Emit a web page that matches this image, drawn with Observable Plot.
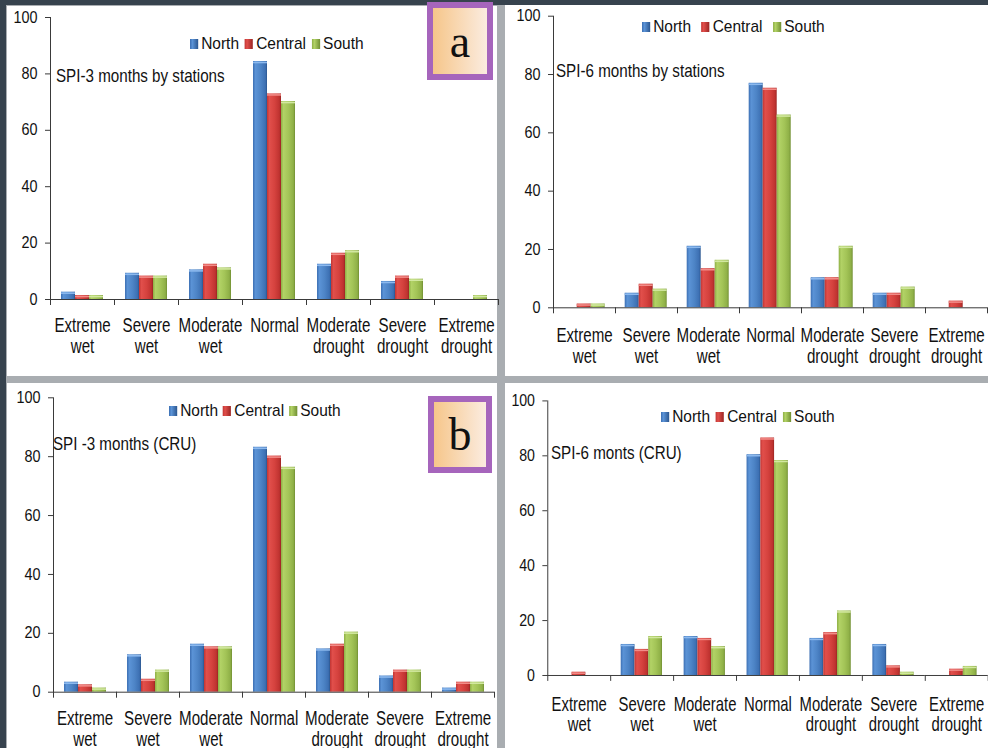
<!DOCTYPE html>
<html>
<head>
<meta charset="utf-8">
<script src="https://cdn.jsdelivr.net/npm/d3@7"></script>
<script src="https://cdn.jsdelivr.net/npm/@observablehq/plot@0.6"></script>
<style>
  html, body { margin: 0; padding: 0; }
  body {
    width: 988px; height: 748px; overflow: hidden; position: relative;
    background: #37434e; font-family: "Liberation Sans", Arial, sans-serif;
  }
  .sep { position: absolute; background: #a9adb1; }
  .panel { position: absolute; background: #fff; }
  .chart { position: absolute; }
  .chart svg { overflow: visible; display: block; }
  .title {
    position: absolute; font-size: 18.5px; line-height: 18.5px; white-space: nowrap;
    transform: scaleX(0.82); transform-origin: 0 0; color: #111;
  }
  .legend {
    position: absolute; display: flex; align-items: center; white-space: nowrap;
    font-size: 17px; line-height: 17px; height: 17px; color: #111;
    transform: scaleX(0.91); transform-origin: 0 50%;
  }
  .legend i { display: inline-block; width: 9px; height: 10px; }
  .badge {
    position: absolute; box-sizing: border-box; border: 6px solid #a665bc;
    background: linear-gradient(to right, #f6c68a, #fbece0);
    font-family: "Liberation Serif", "DejaVu Serif", serif; font-size: 46px; color: #111;
    display: flex; align-items: center; justify-content: center;
  }
</style>
</head>
<body>
<svg width="0" height="0" style="position:absolute">
  <defs>
    <linearGradient id="bar-North" x1="0" x2="1" y1="0" y2="0">
      <stop offset="0" stop-color="#3c6fb3"/>
      <stop offset="0.18" stop-color="#5b93d6"/>
      <stop offset="0.55" stop-color="#4d84c6"/>
      <stop offset="0.88" stop-color="#3d70b3"/>
      <stop offset="1" stop-color="#2b568f"/>
    </linearGradient>
    <linearGradient id="bar-Central" x1="0" x2="1" y1="0" y2="0">
      <stop offset="0" stop-color="#c13533"/>
      <stop offset="0.18" stop-color="#e14f4b"/>
      <stop offset="0.55" stop-color="#d5423e"/>
      <stop offset="0.88" stop-color="#bf3330"/>
      <stop offset="1" stop-color="#9a2523"/>
    </linearGradient>
    <linearGradient id="bar-South" x1="0" x2="1" y1="0" y2="0">
      <stop offset="0" stop-color="#8eaf45"/>
      <stop offset="0.18" stop-color="#b2d266"/>
      <stop offset="0.55" stop-color="#a3c457"/>
      <stop offset="0.88" stop-color="#8fb047"/>
      <stop offset="1" stop-color="#718f33"/>
    </linearGradient>
  </defs>
</svg>

<div class="sep" style="left:6px;top:5px;width:982px;height:743px"></div>
<div class="panel" style="left:7px;top:6px;width:490px;height:370px"></div>
<div class="panel" style="left:505px;top:5px;width:483px;height:371px"></div>
<div class="panel" style="left:7px;top:383px;width:490px;height:365px"></div>
<div class="panel" style="left:505px;top:383px;width:483px;height:365px"></div>

<div id="chart-a" class="chart" style="left:0;top:0"></div>
<div id="chart-c" class="chart" style="left:505px;top:0"></div>
<div id="chart-b" class="chart" style="left:0;top:384px"></div>
<div id="chart-d" class="chart" style="left:505px;top:384px"></div>

<div class="title" style="left:56px;top:66.5px">SPI-3 months by stations</div>
<div class="title" style="left:555.7px;top:61.5px">SPI-6 months by stations</div>
<div class="title" style="left:52.7px;top:435px">SPI -3 months (CRU)</div>
<div class="title" style="left:551.3px;top:444.3px">SPI-6 monts (CRU)</div>

<div class="legend" id="legend-a" style="left:190px;top:35.2px"></div>
<div class="legend" id="legend-c" style="left:641.7px;top:18.2px"></div>
<div class="legend" id="legend-b" style="left:169.3px;top:402.2px"></div>
<div class="legend" id="legend-d" style="left:661.3px;top:408.2px"></div>

<div class="badge" style="left:427px;top:2px;width:66px;height:78px">a</div>
<div class="badge" style="left:428px;top:396px;width:64px;height:77px">b</div>

<script>
// SPI classes on the x axis and the three regions
const categories = ["Extreme wet", "Severe wet", "Moderate wet", "Normal", "Moderate drought", "Severe drought", "Extreme drought"];
const regions = ["North", "Central", "South"];
const yTicks = [0, 20, 40, 60, 80, 100];

// SPI-3 months by stations (%)
const spi3StationsNorth   = [2.6, 9.3, 10.5, 84.4, 12.5, 6.4, 0];
const spi3StationsCentral = [1.4, 8.3, 12.5, 72.9, 16.4, 8.3, 0];
const spi3StationsSouth   = [1.4, 8.3, 11.2, 70.2, 17.3, 7.2, 1.4];

// SPI-6 months by stations (%)
const spi6StationsNorth   = [0, 5.0, 21.1, 77.0, 10.3, 5.0, 0];
const spi6StationsCentral = [1.3, 8.1, 13.4, 75.3, 10.3, 5.0, 2.3];
const spi6StationsSouth   = [1.3, 6.4, 16.3, 66.1, 21.1, 7.1, 0];

// SPI-3 months from CRU (%)
const spi3CruNorth   = [3.4, 12.7, 16.3, 83.2, 14.7, 5.5, 1.4];
const spi3CruCentral = [2.5, 4.4, 15.4, 80.2, 16.3, 7.5, 3.4];
const spi3CruSouth   = [1.4, 7.5, 15.4, 76.4, 20.4, 7.5, 3.4];

// SPI-6 months from CRU (%)
const spi6CruNorth   = [0, 11.3, 14.2, 80.4, 13.5, 11.3, 0];
const spi6CruCentral = [1.2, 9.5, 13.5, 86.5, 15.6, 3.5, 2.3];
const spi6CruSouth   = [0, 14.2, 10.5, 78.3, 23.5, 1.2, 3.3];

const capColor = {North: "#8cb9ee", Central: "#f28c88", South: "#d2e8a0"};
const swatch = {
  North: "linear-gradient(to right,#3c6fb3,#5b93d6 30%,#2b568f)",
  Central: "linear-gradient(to right,#c13533,#e14f4b 30%,#9a2523)",
  South: "linear-gradient(to right,#8eaf45,#b2d266 30%,#718f33)"
};
const axisColor = "#3a3a3a";

// narrow the glyphs of a group of axis labels around their anchor points
function squeezeText(svg, selector, k) {
  svg.querySelectorAll(selector).forEach((t) => {
    const tr = t.getAttribute("transform") || "";
    t.setAttribute("transform", `${tr} scale(${k},1)`);
  });
}

function drawPanel(id, cfg) {
  const {series, width, height, marginLeft, marginTop, marginBottom, labelPad} = cfg;
  const rows = categories.flatMap((cat, i) =>
    regions.map((region, j) => ({cat, region, value: series[j][i]}))
  );
  const innerH = height - marginTop - marginBottom;
  const svg = Plot.plot({
    width, height, marginLeft, marginRight: 0, marginTop, marginBottom,
    style: {background: "none", color: "#111", fontFamily: "Liberation Sans, Arial, sans-serif", fontSize: "16px", overflow: "visible"},
    fx: {domain: categories, padding: 0},
    x: {domain: regions, paddingInner: 0, paddingOuter: 0.68, axis: null},
    y: {domain: [0, 100]},
    color: {domain: regions, range: regions.map((r) => `url(#bar-${r})`)},
    marks: [
      Plot.barY(rows, {fx: "cat", x: "region", y: "value", fill: "region"}),
      Plot.tickY(rows.filter((d) => d.value > 0), {
        fx: "cat", x: "region", y: "value",
        stroke: (d) => capColor[d.region], strokeWidth: 1.6, dy: 1
      }),
      Plot.ruleY([0], {stroke: axisColor}),
      Plot.frame({anchor: "left", facetAnchor: "left", stroke: axisColor}),
      Plot.frame({anchor: "left", insetTop: innerH, insetBottom: -5, stroke: axisColor}),
      Plot.frame({anchor: "right", facetAnchor: "right", insetTop: innerH, insetBottom: -5, stroke: axisColor}),
      Plot.axisY({ticks: yTicks, tickSize: 5, tickPadding: 8, fontSize: 16, label: null, stroke: axisColor}),
      Plot.axisFx({
        anchor: "bottom", tickSize: 0, tickPadding: labelPad, fontSize: 21, lineHeight: 1,
        tickFormat: (d) => d.replace(" ", "\n"), label: null
      })
    ]
  });
  squeezeText(svg, 'g[aria-label="fx-axis tick label"] text', 0.72);
  squeezeText(svg, 'g[aria-label="y-axis tick label"] text', 0.9);
  document.getElementById(id).appendChild(svg);
}

function drawLegend(id, gap) {
  const el = document.getElementById(id);
  regions.forEach((r, i) => {
    const sq = document.createElement("i");
    sq.style.background = swatch[r];
    sq.style.marginRight = "3.3px";
    if (i > 0) sq.style.marginLeft = gap + "px";
    const tx = document.createElement("span");
    tx.textContent = r;
    el.appendChild(sq);
    el.appendChild(tx);
  });
}

drawPanel("chart-a", {
  series: [spi3StationsNorth, spi3StationsCentral, spi3StationsSouth],
  width: 498, height: 376, marginLeft: 50, marginTop: 17, marginBottom: 77, labelPad: 17.5
});
drawPanel("chart-c", {
  series: [spi6StationsNorth, spi6StationsCentral, spi6StationsSouth],
  width: 483, height: 376, marginLeft: 47.3, marginTop: 15.7, marginBottom: 68.7, labelPad: 19.5
});
drawPanel("chart-b", {
  series: [spi3CruNorth, spi3CruCentral, spi3CruSouth],
  width: 497, height: 364, marginLeft: 50, marginTop: 13.3, marginBottom: 56.3, labelPad: 18
});
drawPanel("chart-d", {
  series: [spi6CruNorth, spi6CruCentral, spi6CruSouth],
  width: 491.3, height: 364, marginLeft: 43.3, marginTop: 16.7, marginBottom: 68, labelPad: 21
});

drawLegend("legend-a", 6.5);
drawLegend("legend-c", 11.5);
drawLegend("legend-b", 5.5);
drawLegend("legend-d", 6.5);
</script>
</body>
</html>
